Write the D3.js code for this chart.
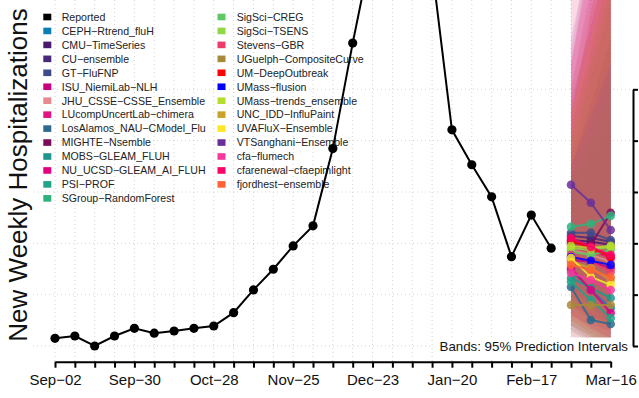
<!DOCTYPE html>
<html>
<head>
<meta charset="utf-8">
<script src="https://cdn.jsdelivr.net/npm/d3@7"></script>
<style>
  body { margin: 0; background: #fff; }
  svg { display: block; font-family: 'Liberation Sans', Arial, sans-serif; }
</style>
</head>
<body>
<svg id="chart" width="639" height="398"></svg>
<script>
'use strict';

// reported weekly hospitalizations (week ending)
const reportedDates = [
  '2023-09-02', '2023-09-09', '2023-09-16', '2023-09-23', '2023-09-30',
  '2023-10-07', '2023-10-14', '2023-10-21', '2023-10-28', '2023-11-04',
  '2023-11-11', '2023-11-18', '2023-11-25', '2023-12-02', '2023-12-09',
  '2023-12-16', '2023-12-23', '2023-12-30', '2024-01-06', '2024-01-13',
  '2024-01-20', '2024-01-27', '2024-02-03', '2024-02-10', '2024-02-17',
  '2024-02-24'
];
const reported = [
  2300, 2390, 2000, 2390, 2690, 2500, 2585, 2690, 2780, 3300,
  4185, 4990, 5900, 6680, 9690, 13800, 17600, 21000, 19500, 16740,
  10420, 9060, 7810, 5480, 7100, 5810
];

const forecastDates = ['2024-03-02', '2024-03-09', '2024-03-16'];

const models = [
  'CEPH−Rtrend_fluH', 'CMU−TimeSeries', 'CU−ensemble', 'GT−FluFNP',
  'ISU_NiemiLab−NLH', 'JHU_CSSE−CSSE_Ensemble', 'LUcompUncertLab−chimera',
  'LosAlamos_NAU−CModel_Flu', 'MIGHTE−Nsemble', 'MOBS−GLEAM_FLUH',
  'NU_UCSD−GLEAM_AI_FLUH', 'PSI−PROF', 'SGroup−RandomForest',
  'SigSci−CREG', 'SigSci−TSENS', 'Stevens−GBR', 'UGuelph−CompositeCurve',
  'UM−DeepOutbreak', 'UMass−flusion', 'UMass−trends_ensemble',
  'UNC_IDD−InfluPaint', 'UVAFluX−Ensemble', 'VTSanghani−Ensemble',
  'cfa−flumech', 'cfarenewal−cfaepimlight', 'fjordhest−ensemble'
];
const modelColors = [
  '#0b7fb5', '#4a1a6e', '#482878', '#3e4a89',
  '#c8007f', '#e8888f', '#e0147f',
  '#2c6a8e', '#7a0c5a', '#1f968b',
  '#e2007f', '#20a386', '#2db27d',
  '#5ec962', '#8fd744', '#ee3b6b', '#a8893a',
  '#ff0000', '#0000ff', '#b5de2b',
  '#c9a227', '#fde725', '#6a2f9a',
  '#f6379b', '#ff0066', '#ff6234'
];

// point forecasts for the three target weeks
const forecastMedian = [
  [4960, 4180, 3480], [6130, 6060, 5940], [6290, 6210, 6060], [6410, 6410, 6130],
  [5350, 5280, 5040], [5740, 5550, 5280], [5940, 5740, 5430],
  [4300, 3010, 2860], [6020, 5940, 7190], [4650, 4260, 3870],
  [5040, 4180, 3290], [4500, 3790, 3090], [6640, 6760, 7070],
  [5670, 5550, 5740], [5820, 5740, 5860], [5550, 5280, 4890], [3600, 3600, 3600],
  [6100, 5820, 5470], [5470, 5320, 5160], [5900, 5820, 5900],
  [5280, 5040, 4570], [5430, 4690, 4380], [8280, 7580, 6520],
  [4850, 4570, 4180], [6210, 5860, 5550], [5160, 4960, 4690]
];
// 95% prediction intervals
const forecastLower = [
  [3300, 2700, 2200], [4300, 3800, 3400], [4200, 3700, 3200], [4500, 4000, 3600],
  [3000, 2500, 2000], [2400, 2000, 1700], [3500, 3000, 2500],
  [2600, 2100, 1800], [3200, 2800, 2600], [2800, 2400, 2000],
  [2800, 2200, 1800], [2900, 2400, 2000], [3800, 3400, 3100],
  [3400, 3000, 2700], [3500, 3100, 2800], [2800, 2400, 2000], [2300, 2000, 1800],
  [3600, 3100, 2700], [3600, 3200, 2900], [3700, 3300, 3000],
  [2600, 2200, 1800], [2900, 2400, 2100], [4200, 3500, 2900],
  [2400, 2100, 1800], [3200, 2700, 2300], [3000, 2600, 2200]
];
const forecastUpper = [
  [10000, 13000, 16000], [9000, 11500, 14000], [9500, 12500, 15500], [9200, 11500, 14000],
  [13000, 17500, 22000], [17000, 21500, 26000], [12000, 16000, 20000],
  [8000, 9500, 11000], [11500, 14500, 17500], [8500, 10500, 12500],
  [10500, 13500, 17000], [8500, 10000, 12000], [11000, 14000, 17000],
  [10000, 13000, 16000], [9500, 12000, 14500], [13500, 18000, 22500], [7500, 9500, 11500],
  [11000, 15000, 19000], [9000, 11000, 13000], [10000, 13000, 16000],
  [12000, 15500, 19000], [11000, 14000, 17000], [14000, 17500, 21000],
  [15500, 20000, 24500], [13000, 17000, 21000], [11000, 14000, 17000]
];

const gridValues = [2000, 4000, 6000, 8000, 10000, 12000];
const labelDates = [
  '2023-09-02', '2023-09-30', '2023-10-28', '2023-11-25',
  '2023-12-23', '2024-01-20', '2024-02-17', '2024-03-16'
];

const parse = d3.utcParse('%Y-%m-%d');
const fmtMonth = d3.utcFormat('%b');
const fmtDay = d3.utcFormat('%d');

const svg = d3.select('#chart');
const plot = {left: 33, right: 633, top: 0, bottom: 361.7};

const x = d3.scaleUtc()
  .domain([parse('2023-09-02'), parse('2024-03-16')])
  .range([55, 610.7]);

const y = d3.scaleLinear()
  .domain([2000, 12000])
  .range([346, 89.3]);

const weekTicks = d3.utcSaturday.range(parse('2023-09-02'), parse('2024-03-17'));
const labelSet = new Set(labelDates);
const iso = d3.utcFormat('%Y-%m-%d');

// grid
let grid = svg.append('g')
  .attr('stroke', '#d3d3d3')
  .attr('stroke-width', 1)
  .attr('stroke-dasharray', '1,3');

grid.selectAll('line.v')
  .data(weekTicks)
  .join('line')
  .attr('class', 'v')
  .attr('x1', d => x(d)).attr('x2', d => x(d))
  .attr('y1', plot.top).attr('y2', plot.bottom);

grid.selectAll('line.h')
  .data(gridValues)
  .join('line')
  .attr('class', 'h')
  .attr('x1', plot.left).attr('x2', plot.right)
  .attr('y1', d => y(d)).attr('y2', d => y(d));

// legend
function legendColumn(names, colors, x0, tx) {
  let g = svg.append('g');
  names.forEach(function(name, i) {
    let cy = 17 + i * 13.95;
    g.append('rect')
      .attr('x', x0).attr('y', cy - 3.3)
      .attr('width', 8).attr('height', 6.6)
      .attr('fill', colors[i]);
    g.append('text')
      .attr('x', tx).attr('y', cy + 3.8)
      .attr('font-size', '10.6px')
      .attr('fill', '#222')
      .text(name);
  });
}
let legendNames = ['Reported'].concat(models);
let legendColors = ['#000000'].concat(modelColors);
legendColumn(legendNames.slice(0, 14), legendColors.slice(0, 14), 43.3, 61.7);
legendColumn(legendNames.slice(14), legendColors.slice(14), 217.5, 236.7);

// forecast bands
const fDates = forecastDates.map(parse);

const band = d3.area()
  .x(d => x(d.date))
  .y0(d => y(d.lo))
  .y1(d => y(d.hi));

const fline = d3.line()
  .x(d => x(d.date))
  .y(d => y(d.value));

let bands = svg.append('g');
models.forEach(function(m, i) {
  let pts = fDates.map((d, k) => ({date: d, lo: forecastLower[i][k], hi: forecastUpper[i][k]}));
  bands.append('path')
    .attr('d', band(pts))
    .attr('fill', modelColors[i])
    .attr('fill-opacity', 0.12);
});

let fc = svg.append('g');
models.forEach(function(m, i) {
  let pts = fDates.map((d, k) => ({date: d, value: forecastMedian[i][k]}));
  let g = fc.append('g');
  g.append('path')
    .attr('d', fline(pts))
    .attr('fill', 'none')
    .attr('stroke', modelColors[i])
    .attr('stroke-width', 2)
    .attr('stroke-opacity', 0.85);
  g.selectAll('circle')
    .data(pts)
    .join('circle')
    .attr('cx', d => x(d.date))
    .attr('cy', d => y(d.value))
    .attr('r', 4.3)
    .attr('fill', modelColors[i])
    .attr('fill-opacity', 0.85);
});

// reported
const rep = reportedDates.map((d, i) => ({date: parse(d), value: reported[i]}));

svg.append('path')
  .attr('d', fline(rep))
  .attr('fill', 'none')
  .attr('stroke', '#000')
  .attr('stroke-width', 2);

svg.append('g')
  .selectAll('circle')
  .data(rep)
  .join('circle')
  .attr('cx', d => x(d.date))
  .attr('cy', d => y(d.value))
  .attr('r', 4.6)
  .attr('fill', '#000');

// bands note
svg.append('rect')
  .attr('x', 433).attr('y', 337.5)
  .attr('width', 199).attr('height', 22)
  .attr('fill', '#fff');
svg.append('text')
  .attr('x', 628).attr('y', 350.5)
  .attr('text-anchor', 'end')
  .attr('font-size', '13.3px')
  .attr('fill', '#111')
  .text('Bands: 95% Prediction Intervals');

// axes
let xAxis = svg.append('g')
  .attr('transform', 'translate(0,' + plot.bottom + ')')
  .call(d3.axisBottom(x)
    .tickValues(weekTicks)
    .tickSizeInner(6)
    .tickSizeOuter(0)
    .tickPadding(7)
    .tickFormat(d => labelSet.has(iso(d)) ? fmtMonth(d) + '−' + fmtDay(d) : ''));
xAxis.selectAll('path, line').attr('stroke', '#000').attr('stroke-width', 2);
xAxis.selectAll('text')
  .attr('font-family', 'Liberation Sans, Arial, sans-serif')
  .attr('font-size', '15px')
  .attr('fill', '#111');

let yAxis = svg.append('g')
  .attr('transform', 'translate(' + plot.right + ',0)')
  .call(d3.axisRight(y)
    .tickValues(gridValues)
    .tickSizeInner(5)
    .tickSizeOuter(0)
    .tickFormat(''));
yAxis.selectAll('path, line').attr('stroke', '#000').attr('stroke-width', 2);

// y title
svg.append('text')
  .attr('transform', 'translate(27,175) rotate(-90)')
  .attr('text-anchor', 'middle')
  .attr('font-size', '26px')
  .attr('fill', '#111')
  .text('New Weekly Hospitalizations');
</script>
</body>
</html>
